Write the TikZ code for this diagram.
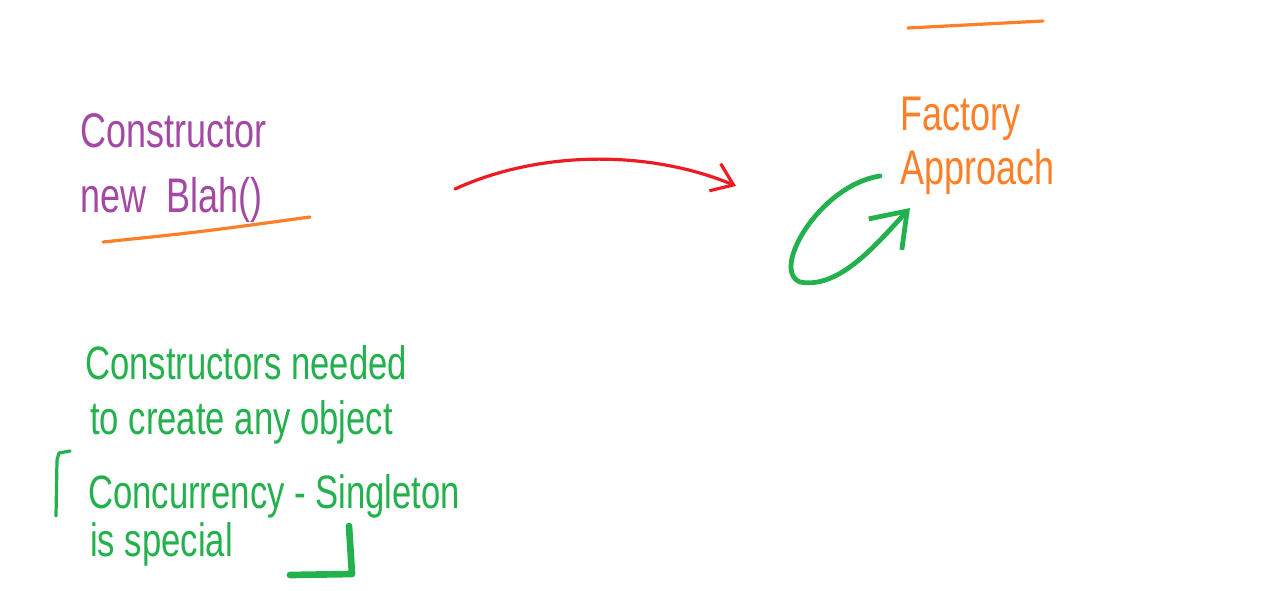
\documentclass[tikz,border=0pt]{standalone}
\usepackage{fontspec}
\usepackage{graphicx}
\setmainfont{Liberation Sans}
\usetikzlibrary{arrows.meta}
\definecolor{inkpurple}{HTML}{A349A4}
\definecolor{inkorange}{HTML}{FF7F27}
\definecolor{inkred}{HTML}{ED1C24}
\definecolor{inkgreen}{HTML}{22B14C}
\newcommand{\tallink}[1]{\scalebox{1}[1.35]{#1}}
\tikzset{
  scribble/.style={anchor=base west, inner sep=0pt, font=\fontsize{27}{30}\selectfont},
  ctortext/.style={scribble, text=inkpurple},
  factorytext/.style={scribble, text=inkorange},
  notetext/.style={scribble, text=inkgreen, font=\fontsize{26}{30}\selectfont},
  strokeline/.style={line width=2.4pt, line cap=round, line join=round},
  swooparrow/.style={strokeline, inkred, -{Straight Barb[length=15pt, width=22pt, line width=2.4pt]}},
  looparrow/.style={strokeline, inkgreen, line width=3.6pt, -{Straight Barb[length=24pt, width=34pt, line width=3.6pt]}}
}

\begin{document}
\begin{tikzpicture}[x=0.75pt, y=-0.75pt]
  \useasboundingbox (0,0) rectangle (1268,590);
  \node[ctortext] (ctortitle) at (80,147) {\tallink{Constructor}};
  \node[ctortext] (ctorcall) at (80,212) {\tallink{new \ Blah()}};
  \draw[strokeline, inkorange] (103,242) .. controls (200,232) .. (310,217);

  \draw[strokeline, inkorange] (908,28) -- (1043,21);
  \node[factorytext] (factoryword) at (900,130) {\tallink{Factory}};
  \node[factorytext] (approachword) at (900,184) {\tallink{Approach}};

  \coordinate (swoopstart) at (455,189);
  \coordinate (swoopend) at (736,186);
  \draw[swooparrow] (swoopstart) .. controls (540,150) and (650,150) .. (swoopend);

  \coordinate (loopstart) at (880,176);
  \coordinate (looptip) at (910,208);
  \draw[looparrow] (loopstart) .. controls (820,185) and (770,270) .. (800,282)
    .. controls (840,290) and (880,240) .. (looptip);

  \node[notetext] (neededline) at (85,379) {\tallink{Constructors needed}};
  \node[notetext] (createline) at (90,434) {\tallink{to create any object}};
  \node[notetext] (concurline) at (88,508) {\tallink{Concurrency - Singleton}};
  \node[notetext] (specialline) at (90,556) {\tallink{is special}};
  \draw[strokeline, inkgreen] (56,516) -- (57,460) -- (59,453) -- (70,451);
  \draw[strokeline, inkgreen, line width=5pt] (349,526) -- (352,574) -- (290,575);
\end{tikzpicture}
\end{document}
